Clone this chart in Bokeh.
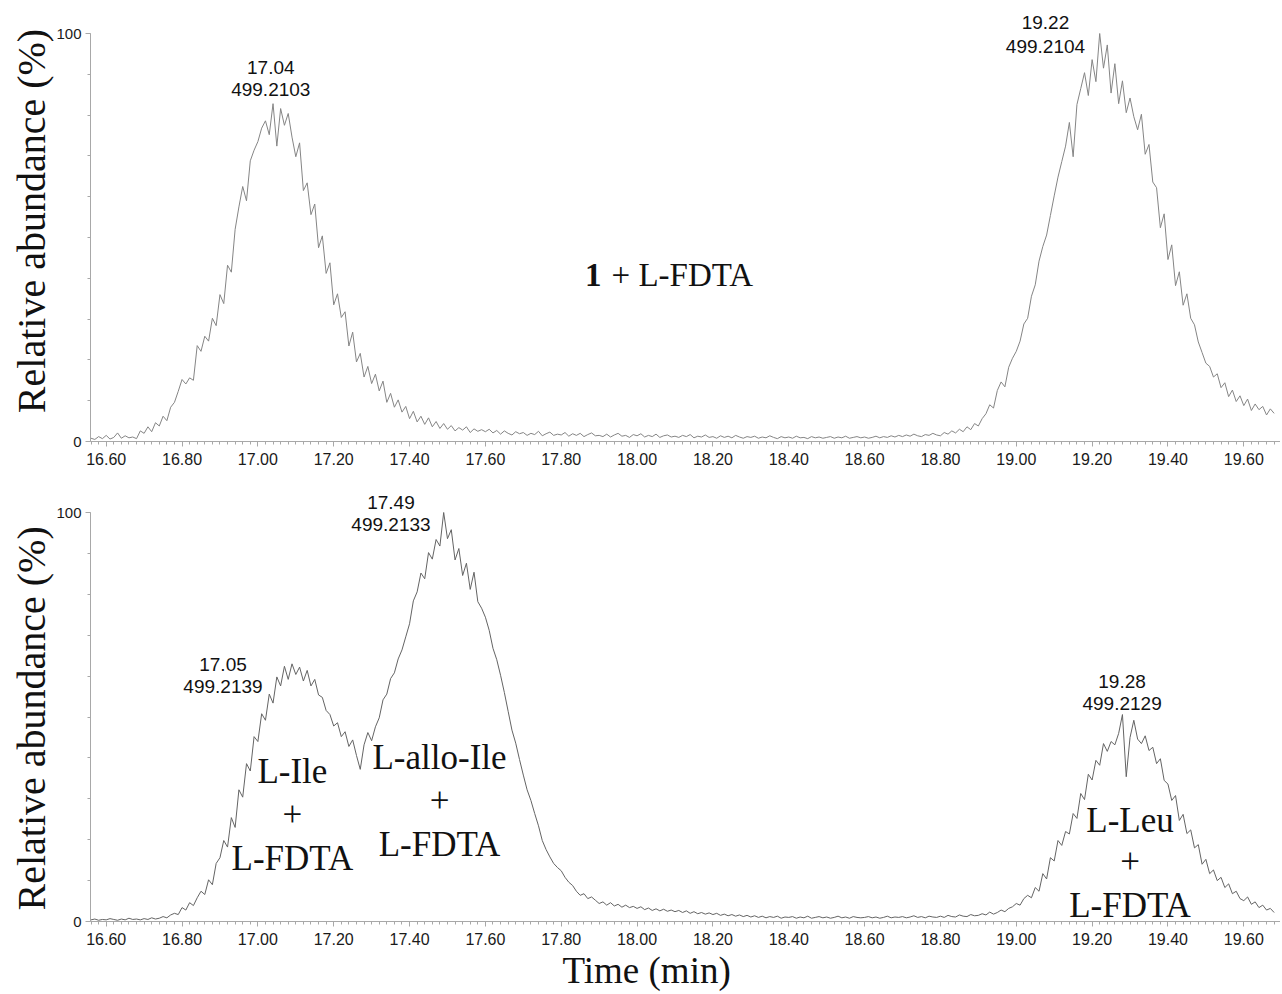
import numpy as np
from bokeh.plotting import figure
from bokeh.models import Range1d, FixedTicker, NumeralTickFormatter, Label, Title
from bokeh.layouts import column
from bokeh.embed import file_html
from bokeh.resources import INLINE

# ---------------- data ----------------
time_start = 16.56      # min, first sample
time_step = 0.01        # min, sampling interval

# upper trace: 1 + L-FDTA   (relative abundance, %)
top_abundance = [
    0.8, 0.5, 1.2, 0.7,                                          # 16.56-16.59
    1.5, 0.6, 1.0, 2.1, 0.8, 1.4, 0.9, 1.1, 0.7, 2.6,            # 16.6
    2.0, 3.6, 2.4, 4.6, 3.8, 6.2, 5.1, 8.4, 9.6, 12.3,           # 16.7
    15.2, 14.1, 15.6, 15.0, 23.5, 22.1, 25.8, 24.6, 30.2, 28.4,  # 16.8
    36.0, 33.8, 43.2, 41.5, 52.0, 57.5, 62.5, 59.0, 68.8, 71.4,  # 16.9
    73.5, 76.8, 78.6, 75.2, 82.8, 72.4, 81.6, 77.5, 80.4, 74.6,  # 17.0
    69.8, 73.2, 61.5, 63.4, 55.6, 58.2, 47.5, 50.4, 41.2, 43.8,  # 17.1
    33.5, 36.2, 30.4, 31.8, 23.4, 26.8, 19.5, 21.6, 15.8, 18.4,  # 17.2
    14.2, 16.5, 12.4, 14.8, 9.6, 11.8, 8.4, 10.2, 7.2, 8.6,      # 17.3
    5.6, 7.4, 4.8, 6.2, 4.2, 5.8, 3.6, 4.9, 3.2, 4.4,            # 17.4
    3.0, 3.9, 2.6, 3.4, 2.8, 3.6, 2.2, 3.1, 2.5, 2.9,            # 17.5
    2.4, 3.0, 2.1, 2.7, 1.8, 2.6, 2.0, 1.6, 2.4, 1.9,            # 17.6
    2.2, 1.5, 2.0, 1.7, 2.5, 1.4, 1.9, 2.3, 1.5, 1.8,            # 17.7
    1.6, 2.2, 1.3, 1.9, 1.5, 2.0, 1.2, 1.7, 2.1, 1.4,            # 17.8
    1.5, 1.2, 1.8, 1.1, 1.6, 2.0, 1.3, 1.5, 1.0, 1.7,            # 17.9
    1.4, 1.9, 1.1, 1.5, 1.2, 1.8, 1.0, 1.4, 1.6, 1.1,            # 18.0
    1.3, 1.0, 1.5, 1.2, 1.7, 0.9, 1.3, 1.1, 1.6, 1.0,            # 18.1
    1.2, 0.8, 1.4, 1.0, 1.3, 0.9, 1.5, 1.1, 0.8, 1.2,            # 18.2
    1.0, 1.3, 0.8, 1.1, 0.9, 1.4, 1.0, 0.7, 1.2, 0.9,            # 18.3
    1.1, 0.8, 1.3, 0.9, 1.0, 0.7, 1.2, 0.9, 1.1, 0.8,            # 18.4
    1.0, 1.2, 0.8, 1.1, 0.9, 1.3, 0.8, 1.0, 1.2, 0.9,            # 18.5
    1.1, 0.8, 1.0, 1.3, 0.9, 1.2, 1.0, 1.4, 1.1, 1.5,            # 18.6
    1.2, 1.6, 1.3, 1.8, 1.4, 1.2, 1.7, 1.5, 2.0, 1.6,            # 18.7
    1.4, 2.2, 1.8, 2.6, 2.1, 3.0, 2.4, 3.6, 2.9, 4.4,            # 18.8
    3.8, 5.6, 6.8, 9.0, 8.2, 12.5, 14.6, 13.4, 18.2, 20.4,       # 18.9
    22.1, 24.6, 28.8, 30.2, 35.6, 38.4, 44.2, 47.8, 50.6, 55.4,  # 19.0
    60.2, 64.8, 68.6, 72.4, 78.2, 69.8, 82.6, 86.5, 90.4, 84.8,  # 19.1
    93.6, 88.2, 100.0, 91.5, 97.2, 85.4, 92.6, 82.8, 88.4, 80.6, # 19.2
    84.2, 79.6, 76.4, 80.2, 70.4, 72.8, 63.6, 62.2, 52.4, 55.8,  # 19.3
    44.6, 48.2, 38.2, 41.6, 33.4, 36.2, 30.2, 28.6, 24.4, 21.8,  # 19.4
    19.2, 18.4, 15.8, 16.6, 13.2, 14.4, 11.0, 12.6, 9.8, 11.2,   # 19.5
    8.8, 10.4, 7.6, 9.2, 7.8, 8.6, 6.5, 8.0, 6.9,                # 19.6
]

# lower trace: amino-acid standards + L-FDTA   (relative abundance, %)
bottom_abundance = [
    0.4, 0.6, 0.3, 0.5,                                          # 16.56-16.59
    0.4, 0.7, 0.5, 0.3, 0.6, 0.4, 0.8, 0.5, 0.6, 0.4,            # 16.6
    0.7, 0.5, 0.9, 0.6, 0.8, 1.2, 0.9, 1.6, 2.0, 1.7,            # 16.7
    3.4, 2.8, 4.6, 3.9, 5.8, 7.4, 6.6, 10.2, 9.0, 14.2,          # 16.8
    15.6, 19.8, 18.2, 25.4, 23.0, 32.2, 30.4, 38.6, 36.8, 45.2,  # 16.9
    44.0, 50.8, 49.2, 55.6, 53.4, 59.8, 57.6, 62.4, 59.2, 63.0,  # 17.0
    60.4, 62.2, 58.8, 61.4, 57.6, 59.2, 55.4, 54.8, 51.6, 50.6,  # 17.1
    47.8, 48.6, 45.2, 46.4, 42.8, 44.4, 40.6, 37.2, 43.2, 46.2,  # 17.2
    44.2, 47.6, 49.8, 54.2, 55.6, 59.4, 60.8, 64.2, 66.4, 69.6,  # 17.3
    72.8, 78.4, 80.6, 85.2, 83.8, 90.2, 88.6, 93.4, 91.8, 100.0, # 17.4
    93.6, 95.8, 88.4, 91.2, 84.6, 87.6, 81.2, 85.4, 78.2, 76.6,  # 17.5
    74.4, 71.2, 66.8, 64.0, 60.2, 56.0, 51.4, 46.8, 43.6, 39.6,  # 17.6
    35.8, 32.2, 29.6, 26.4, 23.4, 19.8, 17.6, 15.8, 14.2, 13.2,  # 17.7
    12.4, 10.8, 9.6, 8.8, 7.4, 6.4, 6.8, 5.6, 6.0, 5.2,          # 17.8
    4.4, 4.8, 4.0, 4.6, 3.8, 4.2, 3.5, 4.0, 3.4, 3.7,            # 17.9
    3.2, 3.6, 2.9, 3.3, 2.7, 3.1, 2.6, 3.0, 2.5, 2.8,            # 18.0
    2.4, 2.7, 2.2, 2.6, 2.0, 2.4, 1.9, 2.2, 1.8, 2.1,            # 18.1
    1.7, 2.0, 1.5, 1.8, 1.4, 1.7, 1.3, 1.6, 1.2, 1.5,            # 18.2
    1.1, 1.4, 1.0, 1.3, 0.9, 1.2, 1.0, 1.3, 0.8, 1.1,            # 18.3
    1.0, 1.2, 0.8, 1.1, 0.9, 1.3, 0.8, 1.0, 1.2, 0.9,            # 18.4
    1.1, 0.8, 1.0, 1.3, 0.9, 1.1, 0.8, 1.2, 1.0, 0.9,            # 18.5
    1.0, 1.2, 0.9, 1.1, 0.8, 1.0, 1.3, 0.9, 1.1, 1.0,            # 18.6
    1.2, 0.9, 1.1, 1.4, 1.0, 1.2, 0.9, 1.3, 1.1, 1.0,            # 18.7
    1.3, 1.0, 1.5, 1.2, 1.1, 1.6, 1.3, 1.2, 1.7, 1.4,            # 18.8
    1.5, 1.9, 1.6, 2.3, 1.8, 2.2, 2.8, 2.4, 3.2, 3.6,            # 18.9
    4.4, 4.0, 5.6, 6.4, 5.8, 8.3, 7.4, 11.7, 10.4, 15.6,         # 19.0
    14.8, 19.8, 18.6, 22.0, 21.4, 26.4, 25.2, 31.3, 29.8, 36.0,  # 19.1
    34.6, 39.4, 38.2, 43.5, 41.6, 44.0, 43.2, 46.0, 50.6, 35.4,  # 19.2
    45.0, 49.2, 44.6, 43.5, 45.4, 41.8, 42.6, 38.6, 39.8, 34.5,  # 19.3
    33.6, 29.6, 30.8, 24.7, 26.2, 21.5, 22.4, 18.0, 18.8, 14.0,  # 19.4
    15.2, 11.7, 12.6, 10.0, 10.8, 8.3, 9.2, 6.8, 7.4, 5.6,       # 19.5
    5.1, 6.0, 4.2, 4.8, 3.4, 4.0, 2.8, 3.2, 2.2,                 # 19.6
]

x_tick_values = [16.6, 16.8, 17.0, 17.2, 17.4, 17.6, 17.8, 18.0,
                 18.2, 18.4, 18.6, 18.8, 19.0, 19.2, 19.4, 19.6]
y_tick_values = [0, 100]

top_peak_labels = [("17.04", "499.2103"), ("19.22", "499.2104")]
bottom_peak_labels = [("17.05", "499.2139"), ("17.49", "499.2133"), ("19.28", "499.2129")]
bottom_compound_labels = ["L-Ile", "L-allo-Ile", "L-Leu"]
reagent_label = "L-FDTA"
sample_label = "1"

y_title = "Relative abundance (%)"
x_title = "Time  (min)"

# ---------------- style ----------------
SERIF = "Liberation Serif"
SANS = "Liberation Sans"
AXIS_GREY = "#a8a8a8"
X_RANGE = (16.5586, 19.6968)


def make_panel(height, y_end, border_bottom, times, values, line_color, title_align, title_offset):
    p = figure(width=1280, height=height,
               x_range=Range1d(*X_RANGE), y_range=Range1d(0, y_end),
               output_backend="svg", toolbar_location=None,
               min_border_left=90, min_border_right=0,
               min_border_top=0, min_border_bottom=border_bottom)
    p.outline_line_color = None
    p.xgrid.visible = False
    p.ygrid.visible = False
    p.background_fill_color = "white"
    p.border_fill_color = "white"

    p.line(times, values, line_color=line_color, line_width=1)

    minor_x = [round(16.56 + 0.02 * i, 2) for i in range(157)]
    p.xaxis.ticker = FixedTicker(ticks=x_tick_values, minor_ticks=minor_x)
    p.xaxis.formatter = NumeralTickFormatter(format="0.00")
    p.yaxis.ticker = FixedTicker(ticks=y_tick_values, minor_ticks=list(range(0, 101, 10)))
    p.yaxis.bounds = (0, 100)

    for ax in (p.xaxis, p.yaxis):
        ax.axis_line_color = AXIS_GREY
        ax.major_tick_line_color = AXIS_GREY
        ax.minor_tick_line_color = AXIS_GREY
        ax.major_tick_in = 0
        ax.minor_tick_in = 0
        ax.major_tick_out = 5
        ax.minor_tick_out = 3
        ax.major_label_text_font = SANS
        ax.major_label_text_color = "#1a1a1a"
    p.xaxis.major_label_text_font_size = "16px"
    p.xaxis.major_label_standoff = 6
    p.yaxis.major_label_text_font_size = "15px"
    p.yaxis.major_label_standoff = 4

    p.add_layout(Title(text=y_title, align=title_align, offset=title_offset, standoff=0,
                       text_font=SERIF, text_font_size="40px", text_font_style="normal",
                       text_color="#111111"), "left")
    return p


def add_text(p, x, y, text, size, font, align="center", style="normal"):
    p.add_layout(Label(x=x, y=y, text=text, text_font=font, text_font_size=size,
                       text_align=align, text_baseline="middle",
                       text_font_style=style, text_color="#111111"))


top_time = np.round(time_start + time_step * np.arange(len(top_abundance)), 2)
bottom_time = np.round(time_start + time_step * np.arange(len(bottom_abundance)), 2)

# ---------------- upper panel ----------------
p1 = make_panel(484, 108.09, 43, top_time, top_abundance, "#858585", "center", 0)
for (t_lbl, mz_lbl), (x, y1, y2) in zip(top_peak_labels, [(17.034, 91.7, 86.3), (19.077, 102.7, 96.8)]):
    add_text(p1, x, y1, t_lbl, "19px", SANS)
    add_text(p1, x, y2, mz_lbl, "19px", SANS)
add_text(p1, 17.9062, 40.9, sample_label, "33px", SERIF, align="right", style="bold")
add_text(p1, 17.9326, 40.9, "+ " + reagent_label, "33px", SERIF, align="left")

# ---------------- lower panel ----------------
p2 = make_panel(510, 106.85, 73, bottom_time, bottom_abundance, "#646464", "left", 11)
for (t_lbl, mz_lbl), (x, y1, y2) in zip(bottom_peak_labels,
                                         [(16.908, 62.8, 57.5), (17.351, 102.4, 97.1), (19.279, 58.7, 53.3)]):
    add_text(p2, x, y1, t_lbl, "19px", SANS)
    add_text(p2, x, y2, mz_lbl, "19px", SANS)
for name, x, (y_name, y_plus, y_reag) in zip(bottom_compound_labels, [17.091, 17.479, 19.300],
                                              [(36.7, 26.2, 15.5), (40.0, 29.6, 18.9), (24.7, 14.7, 3.9)]):
    add_text(p2, x, y_name, name, "35px", SERIF)
    add_text(p2, x, y_plus, "+", "35px", SERIF)
    add_text(p2, x, y_reag, reagent_label, "35px", SERIF)
p2.add_layout(Title(text=x_title, align="left", offset=472, standoff=0,
                    text_font=SERIF, text_font_size="37px", text_font_style="normal",
                    text_color="#111111"), "below")

layout = column(p1, p2, spacing=0)
open("out.html", "w").write(file_html(layout, INLINE))
